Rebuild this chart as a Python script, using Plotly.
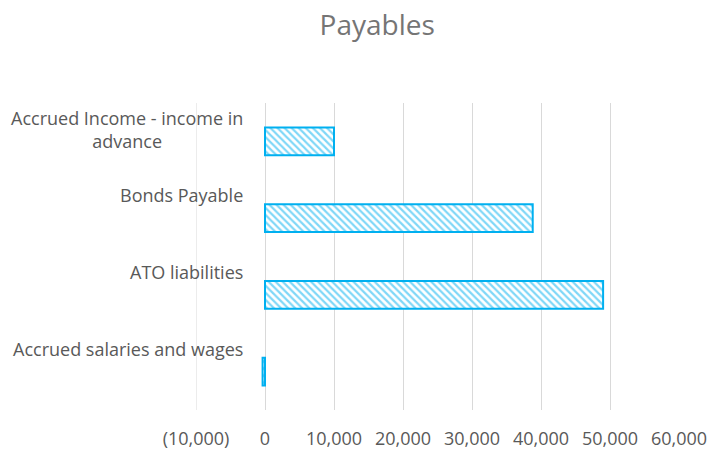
import plotly.graph_objects as go

categories = ["Accrued salaries and wages", "ATO liabilities", "Bonds Payable", "Accrued Income - income in advance"]
label_text = ["Accrued salaries and wages", "ATO liabilities", "Bonds Payable", "Accrued Income - income in<br>advance"]
values = [-350, 49000, 38800, 10000]
tick_vals = [-10000, 0, 10000, 20000, 30000, 40000, 50000, 60000]
tick_text = ["(10,000)", "0", "10,000", "20,000", "30,000", "40,000", "50,000", "60,000"]

BLUE = "#00B0F0"
GREY = "#595959"
FONT = "Open Sans"

fig = go.Figure(go.Bar(
    x=values, y=categories, orientation="h", width=0.36,
    marker=dict(color="white", line=dict(color=BLUE, width=2),
                pattern=dict(shape="\\", fgcolor=BLUE, bgcolor="white", size=5, solidity=0.45)),
))

for cat, txt in zip(categories, label_text):
    fig.add_annotation(x=0, y=cat, xref="x", yref="y", text=txt, showarrow=False,
                       xanchor="right", yanchor="top", xshift=-20, yshift=37,
                       align="center", font=dict(family=FONT, size=18, color=GREY))

fig.add_shape(type="line", xref="x", yref="paper", x0=-10000, x1=-10000, y0=0, y1=1,
              line=dict(color="#D9D9D9", width=1), layer="below")

fig.update_layout(
    width=709, height=451,
    margin=dict(l=196, r=30, t=103, b=41),
    paper_bgcolor="white", plot_bgcolor="white",
    showlegend=False,
    title=dict(text="Payables", x=0.532, xanchor="center", y=0.945, yanchor="middle",
               font=dict(family=FONT, size=28, color="#757575")),
    xaxis=dict(range=[-10000, 60000], tickvals=tick_vals, ticktext=tick_text,
               showgrid=True, gridcolor="#D9D9D9", gridwidth=1,
               zeroline=True, zerolinecolor="#D9D9D9", zerolinewidth=1,
               showline=False, ticks="", ticklabelstandoff=16, automargin=False,
               tickfont=dict(family=FONT, size=18, color=GREY), fixedrange=True),
    yaxis=dict(showticklabels=False, showgrid=False, zeroline=False, showline=False,
               ticks="", range=[-0.5, 3.5], automargin=False, fixedrange=True),
)

fig.write_html("out.html", config={"displayModeBar": False},
               post_script="document.body.style.margin='0';document.body.style.overflow='hidden';")
